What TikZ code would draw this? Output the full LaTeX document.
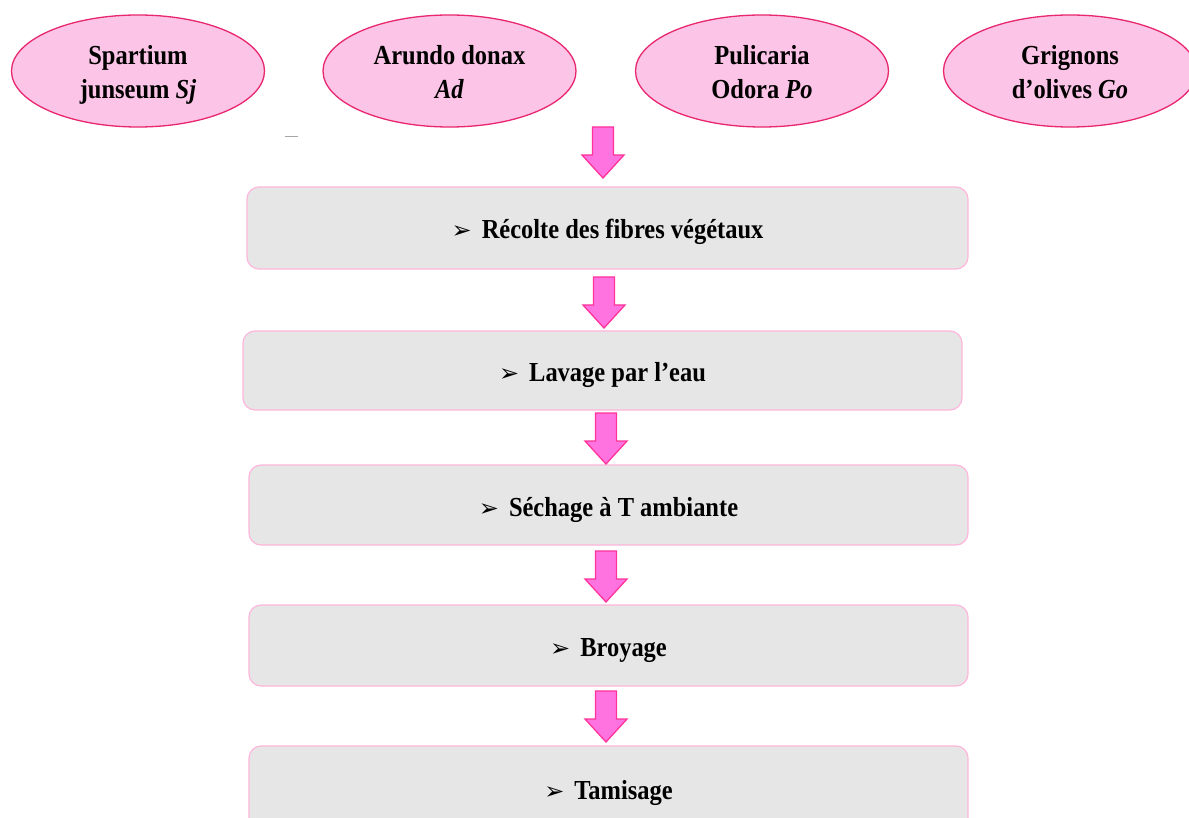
\documentclass[tikz,border=0pt]{standalone}
\usepackage{fontspec}
\setmainfont{Liberation Serif}[FakeStretch=0.89]
\newfontfamily\symfont{DejaVu Sans}
\usetikzlibrary{shapes.geometric}
\definecolor{ellfill}{HTML}{FCC4E6}
\definecolor{elldraw}{HTML}{E8276F}
\definecolor{arrfill}{HTML}{FF73E0}
\definecolor{arrdraw}{HTML}{FF3399}
\definecolor{boxfill}{HTML}{E6E6E6}
\definecolor{boxdraw}{HTML}{FFB6DC}
\begin{document}
\begin{tikzpicture}[x=1pt,y=-1pt,
 source/.style={ellipse, draw=elldraw, fill=ellfill, line width=1.3pt, minimum width=253pt, minimum height=112pt, inner sep=0pt, align=center, font=\fontsize{27.5}{34}\selectfont\bfseries},
 stepbox/.style={rectangle, rounded corners=12pt, draw=boxdraw, fill=boxfill, line width=1.2pt, minimum width=719pt, minimum height=80pt, text height=23pt, text depth=1pt, font=\fontsize{27.5}{34}\selectfont\bfseries},
 flowline/.style={draw=arrdraw, fill=arrfill, line width=1.3pt, line join=miter},
 pics/blockarrow/.style={code={\draw[flowline] (-10.5,0) -- (10.5,0) -- (10.5,28) -- (21,28) -- (0,51) -- (-21,28) -- (-10.5,28) -- cycle;}}]
\useasboundingbox (0,0) rectangle (1189,818);
\clip (0,0) rectangle (1189,818);
\newcommand{\bul}{{\symfont\fontsize{24}{24}\selectfont ➢}\hspace{10pt}}
\newcommand{\topstrut}{\rule{0pt}{32pt}}
\node[source] (sj) at (138,71) {\topstrut Spartium\\junseum \textit{Sj}\strut};
\node[source] (ad) at (449.5,71) {\topstrut Arundo donax\\\textit{Ad}\strut};
\node[source] (po) at (762,71) {\topstrut Pulicaria\\Odora \textit{Po}\strut};
\node[source] (go) at (1070,71) {\topstrut Grignons\\d’olives \textit{Go}\strut};
\node[stepbox, minimum width=721pt, minimum height=82pt] (b1) at (607.5,228) {\bul Récolte des fibres végétaux};
\node[stepbox, minimum height=79pt] (b2) at (602.5,370.5) {\bul Lavage par l’eau};
\node[stepbox] (b3) at (608.5,505) {\bul Séchage à T ambiante};
\node[stepbox, minimum height=81pt] (b4) at (608.5,645.5) {\bul Broyage};
\node[stepbox, minimum height=84pt] (b5) at (608.5,788) {\bul Tamisage};
\pic (a1) at (603,127) {blockarrow};
\pic (a2) at (604,277) {blockarrow};
\pic (a3) at (606,413) {blockarrow};
\pic (a4) at (606,551) {blockarrow};
\pic (a5) at (606,691) {blockarrow};
\coordinate (d1) at (285,136);
\coordinate (d2) at (298,136);
\draw[gray!70, line width=0.8pt] (d1) -- (d2);
\end{tikzpicture}
\end{document}
